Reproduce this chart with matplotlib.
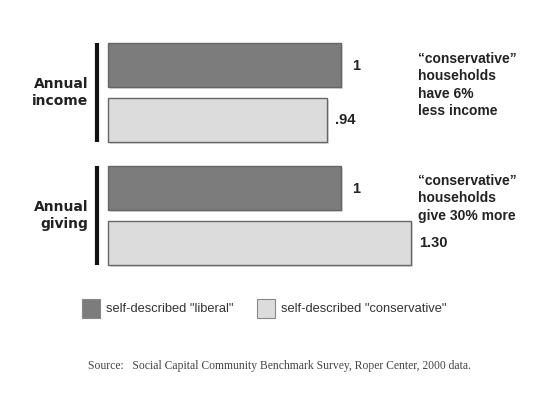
import matplotlib
matplotlib.use("Agg")
import matplotlib.pyplot as plt
import matplotlib.transforms as mtrans
from matplotlib.patches import Rectangle

# ---- data ----
groups = ["Annual\nincome", "Annual\ngiving"]
series_names = ['self-described "liberal"', 'self-described "conservative"']
liberal = [1.0, 1.0]
conservative = [0.94, 1.30]
value_labels_lib = ["1", "1"]
value_labels_con = [".94", "1.30"]
notes = ["\u201cconservative\u201d\nhouseholds\nhave 6%\nless income",
         "\u201cconservative\u201d\nhouseholds\ngive 30% more"]
source = "Source:   Social Capital Community Benchmark Survey, Roper Center, 2000 data."

dark = "#7c7c7c"
light = "#dcdcdc"
edge = "#666666"

W, H = 550, 415
fig = plt.figure(figsize=(W / 100, H / 100), dpi=100)
fig.patch.set_facecolor("white")

# axes: x in value units (0 at px 108, 233 px per unit), y in pixel units
x0_px, unit_px = 108, 233
ax = fig.add_axes([0, 0, 1, 1])
ax.set_xlim(-x0_px / unit_px, (W - x0_px) / unit_px)
ax.set_ylim(H, 0)
ax.axis("off")

bar_h = 44
lib_y = [65, 188]
con_y = [120, 243]

sans = ["Liberation Sans", "DejaVu Sans"]

shadow_tr = mtrans.offset_copy(ax.transData, fig=fig, x=2, y=-2, units="dots")
for ys, vals, col in [(lib_y, liberal, dark), (con_y, conservative, light)]:
    ax.barh(ys, vals, height=bar_h, left=0, color="#c8c8c8", alpha=0.6,
            transform=shadow_tr, zorder=1, linewidth=0)
    ax.barh(ys, vals, height=bar_h, left=0, color=col, edgecolor=edge,
            linewidth=1.0, zorder=2)

# value labels
for y, v, t in zip(lib_y, liberal, value_labels_lib):
    ax.text(v + 11 / unit_px, y + 1, t, ha="left", va="center",
            fontsize=10.5, fontweight="bold", family=sans, color="#222222")
for y, v, t in zip(con_y, conservative, value_labels_con):
    ax.text(v + 8 / unit_px, y, t, ha="left", va="center",
            fontsize=10.5, fontweight="bold", family=sans, color="#222222")

# group labels and black brackets
for i, g in enumerate(groups):
    top = lib_y[i] - bar_h / 2
    bot = con_y[i] + bar_h / 2
    ax.plot([-11 / unit_px, -11 / unit_px], [top, bot], color="#111111",
            linewidth=3, solid_capstyle="butt")
    ax.text(-20 / unit_px, (top + bot) / 2, g, ha="right", va="center",
            fontsize=10, fontweight="bold", family=["DejaVu Sans"],
            color="#222222", linespacing=1.3)

# notes
note_y = [52, 174]
for y, n in zip(note_y, notes):
    ax.text(310 / unit_px, y, n, ha="left", va="top", fontsize=10,
            fontweight="bold", family=sans, color="#222222", linespacing=1.3)

# legend
lx = [82, 257]
for x, col, name in zip(lx, [dark, light], series_names):
    fig.patches.append(Rectangle((x, H - 318), 18, 19, transform=None,
                                 facecolor=col, edgecolor="#888888",
                                 linewidth=0.8))
    fig.text((x + 24) / W, 1 - 309 / H, name, ha="left", va="center",
             fontsize=9.3, family=sans, color="#333333")

fig.text(88 / W, 1 - 366 / H, source, ha="left", va="center",
         fontsize=8.4, family=["Liberation Serif", "DejaVu Serif"],
         color="#444444")

fig.savefig("out.png", dpi=100, facecolor="white")
